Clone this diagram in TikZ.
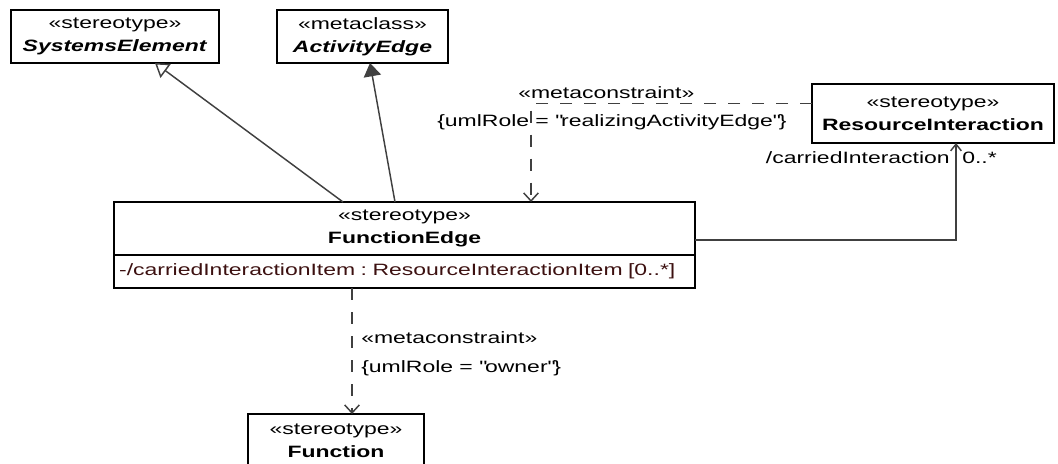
\documentclass[tikz,border=0pt]{standalone}
\usepackage{fontspec}
\setmainfont[FakeStretch=1.4]{Liberation Sans}
\usetikzlibrary{calc, positioning}
\usetikzlibrary{arrows.meta}
\definecolor{linegray}{RGB}{64,64,64}
\definecolor{attrbrown}{RGB}{60,16,16}
\newcommand{\umlfont}{\fontsize{12.3pt}{17.25pt}\selectfont}
\frenchspacing

\begin{document}
\begin{tikzpicture}[x=0.75pt, y=-0.75pt,
  every node/.style={font=\umlfont, inner sep=0pt},
  umlbox/.style={draw=black, line width=1.4pt, outer sep=0pt, align=center},
  gen/.style={draw=linegray, line width=1.1pt, -{Triangle[open, length=10pt, width=13pt]}},
  realize/.style={draw=linegray, line width=1.1pt, -{Triangle[length=10pt, width=13pt]}},
  dep/.style={draw=linegray, line width=1.1pt, dash pattern=on 9pt off 9pt, -{Straight Barb[length=6pt, width=11pt]}},
  assoc/.style={draw=linegray, line width=1.1pt, -{Straight Barb[length=5pt, width=8pt]}}]
\useasboundingbox (0,0) rectangle (1058,464);

% classes
\node[umlbox, minimum width=156pt, minimum height=39.75pt] (sysel) at (115,36.5)
  {«stereotype»\\\textbf{\textit{SystemsElement}}};
\node[umlbox, minimum width=128.25pt, minimum height=39.75pt] (actedge) at (362.5,36.5)
  {«metaclass»\\\textbf{\textit{ActivityEdge}}};
\node[umlbox, minimum width=181.5pt, minimum height=44.25pt] (resint) at (933,113.5)
  {«stereotype»\\\textbf{ResourceInteraction}};
\node[umlbox, minimum width=435.75pt, minimum height=39.75pt] (fehead) at (404.5,228.5)
  {«stereotype»\\\textbf{FunctionEdge}};
\node[umlbox, minimum width=435.75pt, minimum height=24.75pt, text width=428pt, align=left,
  text=attrbrown, below=0pt of fehead] (feattr)
  {-/carriedInteractionItem : ResourceInteractionItem [0..*]};
\node[umlbox, minimum width=132pt, minimum height=40.5pt] (func) at (336,441)
  {«stereotype»\\\textbf{Function}};

% generalizations
\draw[gen] ($(fehead.north west)+(229,0)$) -- ($(sysel.south west)+(144,0)$);
\draw[realize] ($(fehead.north west)+(281,0)$) -- ($(actedge.south west)+(93,0)$);

% metaconstraints
\draw[dep] ($(resint.west)+(0,-10)$) -| ($(fehead.north west)+(417,0)$);
\node[anchor=west] (mcone) at (518,93) {«metaconstraint»};
\node[anchor=west] (roleone) at (437,122) {\{umlRole = \textquotedbl realizingActivityEdge\textquotedbl\}};

\draw[dep] ($(feattr.south west)+(238,0)$) -- ($(func.north west)+(104,0)$);
\node[anchor=west] (mctwo) at (361,338) {«metaconstraint»};
\node[anchor=west] (roletwo) at (361,368) {\{umlRole = \textquotedbl owner\textquotedbl\}};

% association
\draw[assoc] ($(fehead.east)+(0,11.5)$) -| ($(resint.south west)+(144,0)$);
\node[anchor=east] (endrole) at (950,158) {/carriedInteraction};
\node[anchor=west] (endmult) at (962,158) {0..*};
\end{tikzpicture}
\end{document}
